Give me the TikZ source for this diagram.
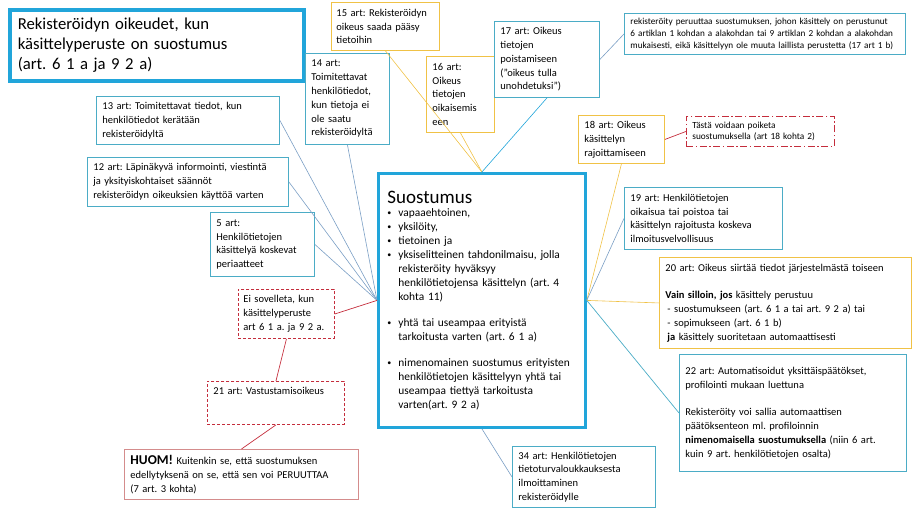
\documentclass[tikz,border=0pt]{standalone}
\usepackage{fontspec}
\setmainfont{Carlito}
\usetikzlibrary{positioning}
\frenchspacing
\definecolor{tealc}{RGB}{75,172,198}
\definecolor{goldc}{RGB}{240,194,70}
\definecolor{cyanc}{RGB}{33,165,218}
\definecolor{linkc}{RGB}{122,158,196}
\definecolor{redc}{RGB}{196,45,60}
\definecolor{pinkc}{RGB}{212,140,140}
\tikzset{
  artbox/.style={draw, fill=white, line width=0.9pt, anchor=north west, align=left,
    inner xsep=6pt, inner ysep=2pt, font=\fontsize{10.5}{13.8}\selectfont},
  tealbox/.style={artbox, draw=tealc},
  goldbox/.style={artbox, draw=goldc},
  redbox/.style={artbox, draw=redc, dash pattern=on 3pt off 2pt},
  reddotbox/.style={artbox, draw=redc, dash pattern=on 7pt off 2.5pt on 1.5pt off 2.5pt,
    font=\fontsize{9.3}{11.5}\selectfont},
  notebox/.style={artbox, draw=pinkc},
  headbox/.style={draw=cyanc, line width=3.5pt, anchor=north west, align=left,
    inner xsep=8pt, font=\fontsize{16.7}{20}\selectfont},
  mainbox/.style={draw=cyanc, line width=2.8pt, fill=white, anchor=north west, align=left,
    inner xsep=9pt, font=\fontsize{11.4}{14}\selectfont},
  bluelink/.style={linkc, line width=0.6pt},
  goldlink/.style={goldc, line width=0.6pt},
  cyanlink/.style={cyanc, line width=0.6pt},
  tealink/.style={tealc, line width=0.7pt},
  redlink/.style={redc, line width=0.7pt},
}
% one framed box: style, name, corner, text width, text
\newcommand{\artbox}[5]{%
  \node[#1, text width=#4] (#2) at #3 {#5};
}
\newcommand{\smallbul}{\raisebox{0.8pt}{\fontsize{8}{8}\selectfont\textbullet}}
\newenvironment{dotlist}{\begin{list}{\smallbul}{%
  \setlength{\leftmargin}{11pt}\setlength{\labelwidth}{11pt}%
  \setlength{\labelsep}{0pt}\setlength{\itemsep}{0pt}%
  \setlength{\parsep}{0pt}\setlength{\topsep}{0pt}\setlength{\partopsep}{0pt}%
  \renewcommand{\makelabel}[1]{##1\hfil}}}{\end{list}}

\begin{document}
\begin{tikzpicture}[x=1pt, y=-1pt]
    \useasboundingbox (0,0) rectangle (916,515);
    % title
    \artbox{headbox, minimum height=71pt}{title}{(8,8)}{278pt}
      {Rekisteröidyn oikeudet, kun\\ käsittelyperuste on suostumus\\ (art. 6 1 a ja 9 2 a)}
    % left side
    \artbox{tealbox, minimum height=48pt}{b13}{(96,96)}{171pt}
      {13 art: Toimitettavat tiedot, kun\\ henkilötiedot kerätään\\ rekisteröidyltä}
    \artbox{tealbox, minimum height=49pt}{b12}{(87,157)}{189pt}
      {12 art: Läpinäkyvä informointi, viestintä\\ ja yksityiskohtaiset säännöt\\
       rekisteröidyn oikeuksien käyttöä varten}
    \artbox{tealbox, minimum height=64pt}{b5}{(210,212)}{92pt}
      {5 art:\\ Henkilötietojen\\ käsittelyä koskevat\\ periaatteet}
    \artbox{redbox, minimum height=49pt, inner xsep=5pt}{ei}{(238,289)}{86pt}
      {Ei sovelleta, kun\\ käsittelyperuste\\ art 6 1 a. ja 9 2 a.}
    \artbox{redbox, minimum height=43pt}{b21}{(207,381)}{125pt}
      {21 art: Vastustamisoikeus\\[10pt]\mbox{}}
    \artbox{notebox, minimum height=50pt}{huom}{(124,449)}{222pt}
      {{\fontsize{13.5}{14}\selectfont\textbf{HUOM!}} Kuitenkin se, että suostumuksen\\
       edellytyksenä on se, että sen voi PERUUTTAA\\ (7 art. 3 kohta)}
    % top row
    \artbox{tealbox, minimum height=91pt}{b14}{(305,53)}{72pt}
      {14 art:\\ Toimitettavat\\ henkilötiedot,\\ kun tietoja ei\\ ole saatu\\ rekisteröidyltä}
    \artbox{goldbox, minimum height=48pt, inner xsep=5pt}{b15}{(331,2)}{98pt}
      {15 art: Rekisteröidyn\\ oikeus saada pääsy\\ tietoihin}
    \artbox{goldbox, minimum height=76pt}{b16}{(426,56)}{56pt}
      {16 art:\\ Oikeus\\ tietojen\\ oikaisemis\\ een}
    \artbox{tealbox, minimum height=76pt}{b17}{(494,21)}{93pt}
      {17 art: Oikeus\\ tietojen\\ poistamiseen\\ (”oikeus tulla\\ unohdetuksi”)}
    \artbox{tealbox, minimum height=41pt, font=\fontsize{9.2}{12}\selectfont}{btr}{(624,13)}{269pt}
      {rekisteröity peruuttaa suostumuksen, johon käsittely on perustunut\\
       6 artiklan 1 kohdan a alakohdan tai 9 artiklan 2 kohdan a alakohdan\\
       mukaisesti, eikä käsittelyyn ole muuta laillista perustetta (17 art 1 b)}
    % right side
    \artbox{goldbox, minimum height=48pt}{b18}{(578,115)}{74pt}
      {18 art: Oikeus\\ käsittelyn\\ rajoittamiseen}
    \artbox{reddotbox, minimum height=30pt}{bex}{(686,116)}{136pt}
      {Tästä voidaan poiketa\\ suostumuksella (art 18 kohta 2)}
    \artbox{tealbox, minimum height=62pt}{b19}{(624,187)}{146pt}
      {19 art: Henkilötietojen\\ oikaisua tai poistoa tai\\ käsittelyn rajoitusta koskeva\\
       ilmoitusvelvollisuus}
    \artbox{goldbox, minimum height=91pt}{b20}{(659,257)}{240pt}
      {20 art: Oikeus siirtää tiedot järjestelmästä toiseen\\[13.8pt]
       \textbf{Vain silloin, jos} käsittely perustuu\\
       \hspace*{2pt}- suostumukseen (art. 6 1 a tai art. 9 2 a) tai\\
       \hspace*{2pt}- sopimukseen (art. 6 1 b)\\
       \hspace*{2pt}\textbf{ja} käsittely suoritetaan automaattisesti}
    \artbox{tealbox, minimum height=117pt}{b22}{(679,354)}{215pt}
      {22 art: Automatisoidut yksittäispäätökset,\\ profilointi mukaan luettuna\\[13.8pt]
       Rekisteröity voi sallia automaattisen\\ päätöksenteon ml. profiloinnin\\
       \textbf{nimenomaisella suostumuksella} (niin 6 art.\\ kuin 9 art. henkilötietojen osalta)}
    \artbox{tealbox, minimum height=61pt}{b34}{(512,446)}{131pt}
      {34 art: Henkilötietojen\\ tietoturvaloukkauksesta\\ ilmoittaminen\\ rekisteröidylle}
    % centre
    \node[mainbox, text width=189pt, minimum height=254pt] (cons) at (377,172) {%
      {\fontsize{19}{22}\selectfont Suostumus\par}\vspace{-1pt}
      \begin{dotlist}
        \item vapaaehtoinen,
        \item yksilöity,
        \item tietoinen ja
        \item yksiselitteinen tahdonilmaisu, jolla\\ rekisteröity hyväksyy\\
          henkilötietojensa käsittelyn (art. 4\\ kohta 11)\par\vspace{12pt}
        \item yhtä tai useampaa erityistä\\ tarkoitusta varten (art. 6 1 a)\par\vspace{12pt}
        \item nimenomainen suostumus erityisten\\ henkilötietojen käsittelyyn yhtä tai\\
          useampaa tiettyä tarkoitusta\\ varten(art. 9 2 a)
      \end{dotlist}\par\vspace{24pt}};
    % connectors
    \foreach \a in {b13.east, b12.east, b5.east, b14.south}
      \draw[bluelink] (\a) -- (cons.west);
    \draw[redlink] (ei.east) -- (cons.west);
    \draw[redlink] (ei.south) -- (b21.north);
    \draw[redlink] (b21.south) -- (huom.north);
    \foreach \a in {b15.south, b16.south}
      \draw[goldlink] (\a) -- (cons.north);
    \draw[cyanlink] (b17.south) -- (cons.north);
    \draw[bluelink] (b17.east) -- (btr.west);
    \draw[goldlink] (b18.south) -- (cons.east);
    \draw[redlink] (b18.east) -- (bex.west);
    \draw[bluelink] (b19.west) -- (cons.east);
    \draw[goldlink] (b20.west) -- (cons.east);
    \draw[tealink] (cons.east) -- (b22.west);
    \draw[bluelink] (cons.south) -- (b34.west);
\end{tikzpicture}
\end{document}
